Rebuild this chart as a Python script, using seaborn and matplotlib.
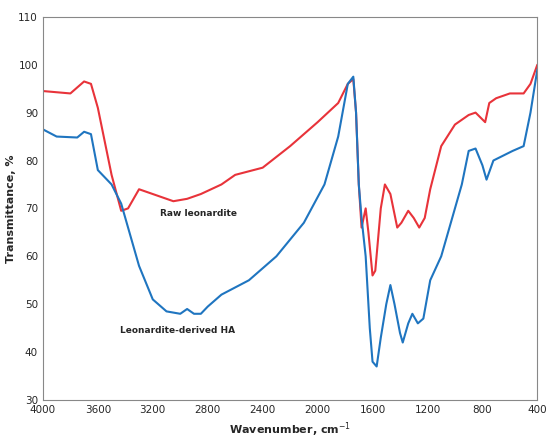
import matplotlib
matplotlib.use("Agg")
import matplotlib.pyplot as plt
import seaborn as sns
import pandas as pd

raw_w = [4000,3800,3700,3650,3600,3550,3500,3430,3380,3300,3200,3050,2950,2850,2700,2600,2400,2200,2000,1850,1780,1740,1720,1700,1680,1650,1630,1600,1580,1540,1510,1470,1420,1390,1340,1300,1260,1220,1180,1100,1000,900,850,780,750,700,600,500,450,400]
raw_t = [94.5,94,96.5,96,91,84,77,69.5,70,74,73,71.5,72,73,75,77,78.5,83,88,92,96,97,90,75,66,70,65,56,57,70,75,73,66,67,69.5,68,66,68,74,83,87.5,89.5,90,88,92,93,94,94,96,100]
ha_w = [4000,3900,3750,3700,3650,3600,3500,3430,3350,3300,3200,3100,3000,2950,2900,2850,2800,2700,2500,2300,2100,1950,1850,1780,1740,1720,1700,1680,1650,1620,1600,1570,1540,1500,1470,1440,1400,1380,1340,1310,1270,1230,1180,1100,1000,950,900,850,800,770,720,650,580,500,450,400]
ha_t = [86.5,85,84.8,86,85.5,78,75,71,63,58,51,48.5,48,49,48,48,49.5,52,55,60,67,75,85,96,97.5,90,75,68,60,45,38,37,43,50,54,50,44,42,46,48,46,47,55,60,70,75,82,82.5,79,76,80,81,82,83,90,99]

sns.set_theme(style="white")
fig, ax = plt.subplots(figsize=(5.5, 4.42), dpi=100)
sns.lineplot(data=pd.DataFrame({"w": raw_w, "t": raw_t}), x="w", y="t", ax=ax, color="#e8333a", lw=1.5, sort=False)
sns.lineplot(data=pd.DataFrame({"w": ha_w, "t": ha_t}), x="w", y="t", ax=ax, color="#1f75c0", lw=1.5, sort=False)
ax.set_xlim(4000, 400)
ax.set_ylim(30, 110)
ax.set_xticks(range(4000, 399, -400))
ax.set_yticks(range(30, 111, 10))
ax.tick_params(labelsize=7.5, length=0)
ax.set_xlabel("Wavenumber, cm$^{-1}$", fontsize=8, fontweight="bold")
ax.set_ylabel("Transmittance, %", fontsize=8, fontweight="bold", labelpad=2)
ax.text(2870, 68.5, "Raw leonardite", fontsize=6.5, fontweight="bold", ha="center")
ax.text(3020, 44, "Leonardite-derived HA", fontsize=6.5, fontweight="bold", ha="center")
for s in ax.spines.values():
    s.set_color("#888888"); s.set_linewidth(0.8)
fig.subplots_adjust(left=0.078, right=0.977, top=0.962, bottom=0.095)
fig.savefig("out.png")
